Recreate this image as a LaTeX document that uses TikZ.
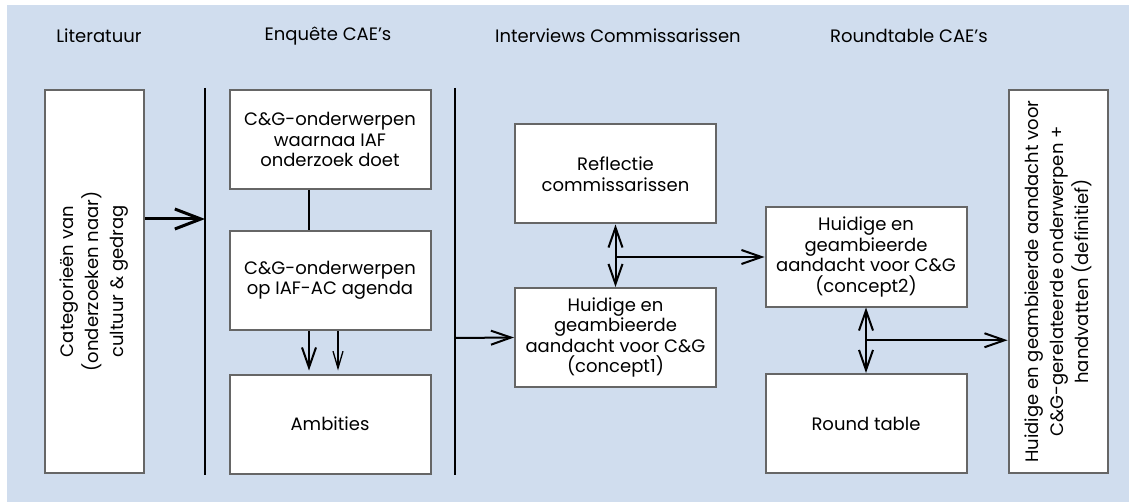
\documentclass[tikz,border=0pt]{standalone}
\usepackage{fontspec}
\setmainfont{Poppins}
\usetikzlibrary{arrows.meta,calc}
\definecolor{achtergrond}{HTML}{D0DDEE}
\definecolor{rand}{HTML}{666666}
\begin{document}
\begin{tikzpicture}[x=1pt,y=-1pt,
  blok/.style={draw=rand,line width=2pt,fill=white,minimum width=201pt,minimum height=99pt,
    align=center,inner sep=0pt,font=\fontsize{18}{20.5}\selectfont},
  staand/.style={blok,rotate=90,minimum width=383pt,minimum height=99pt,font=\fontsize{18}{25}\selectfont},
  kop/.style={font=\fontsize{18}{20}\selectfont},
  pijl/.style={line width=2pt,-{Straight Barb[length=20pt,width=14pt]}},
  dubbel/.style={line width=2pt,{Straight Barb[length=20pt,width=14pt]}-{Straight Barb[length=20pt,width=14pt]}},
  dikpijl/.style={line width=3pt,-{Straight Barb[length=26pt,width=20pt]}},
  dunpijl/.style={line width=1.3pt,-{Straight Barb[length=17pt,width=10pt]}},
  scheiding/.style={line width=2.5pt}]
 \useasboundingbox (0,0) rectangle (1131,502);
 \fill[achtergrond] (7,5) rectangle (1129,502);
 % kopjes
 \node[kop] (k1) at (99,36) {Literatuur};
 \node[kop] (k2) at (328,36) {Enquête CAE’s};
 \node[kop] (k3) at (618,36) {Interviews Commissarissen};
 \node[kop] (k4) at (909,36) {Roundtable CAE’s};
 % blokken
 \node[staand] (lit) at (94.5,281.5) {Categorieën van\\(onderzoeken naar)\\cultuur \& gedrag};
 \node[blok] (enq1) at (330,139.5) {C\&G-onderwerpen\\waarnaa IAF\\onderzoek doet};
 \node[blok] (enq2) at (330,280.5) {C\&G-onderwerpen\\op IAF-AC agenda};
 \node[blok] (amb) at (330,424) {Ambities};
 \node[blok] (refl) at (615.5,174) {Reflectie\\commissarissen};
 \node[blok] (con1) at (615.5,337.5) {Huidige en\\geambieerde\\aandacht voor C\&G\\(concept1)};
 \node[blok] (con2) at (866,257) {Huidige en\\geambieerde\\aandacht voor C\&G\\(concept2)};
 \node[blok] (rt) at (866,423.5) {Round table};
 \node[staand] (fin) at (1058,281.5) {Huidige en geambieerde aandacht voor\\C\&G-gerelateerde onderwerpen +\\handvatten (definitief)};
 % scheidingslijnen
 \coordinate (s1top) at (205,88);
 \coordinate (s1bot) at (205,475);
 \coordinate (s2top) at (455,88);
 \coordinate (s2bot) at (455,475);
 \draw[scheiding] (s1top) -- (s1bot);
 \draw[scheiding] (s2top) -- (s2bot);
 \coordinate (in1) at (205,219);
 \coordinate (in2) at (455,338);
 \coordinate (br2) at ($(con2.south)!0.5!(rt.north)$);
 % verbindingen
 \draw[dikpijl] (lit.south |- in1) -- (in1);
 \draw[line width=2pt] ([xshift=-21pt]enq1.south) -- ([xshift=-21pt]enq2.north);
 \draw[pijl] ([xshift=-21pt]enq2.south) -- ([xshift=-21pt,yshift=3pt]amb.north);
 \draw[dunpijl] ([xshift=8pt]enq2.south) -- ([xshift=8pt,yshift=3pt]amb.north);
 \draw[pijl] (in2) -- (con1.west);
 \draw[dubbel] (refl.south) -- (con1.north);
 \draw[pijl] (refl.south |- con2.west) -- (con2.west);
 \draw[dubbel] (con2.south) -- (rt.north);
 \draw[pijl] (br2) -- (br2 -| fin.north);
\end{tikzpicture}
\end{document}
